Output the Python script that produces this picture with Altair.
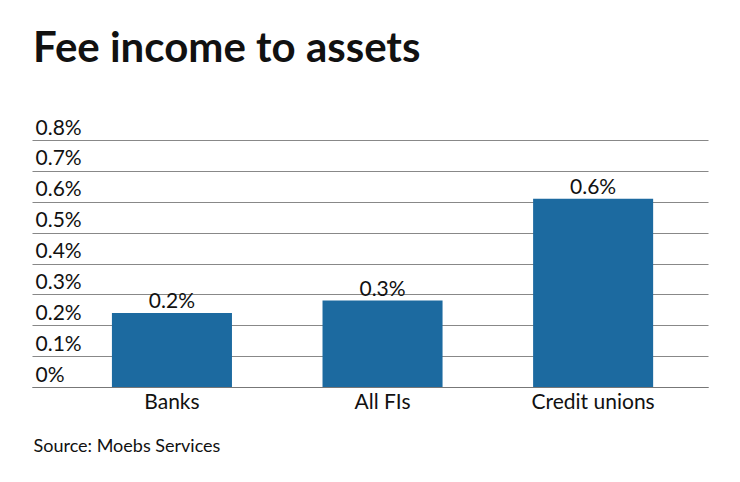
import altair as alt
import pandas as pd

categories = ["Banks", "All FIs", "Credit unions"]
values = [0.24, 0.28, 0.61]
labels = ["0.2%", "0.3%", "0.6%"]
y_ticks = [0, 0.1, 0.2, 0.3, 0.4, 0.5, 0.6, 0.7, 0.8]

df = pd.DataFrame({"category": categories, "value": values, "label": labels})

FONT = "Lato"

x = alt.X(
    "category:N",
    sort=categories,
    scale=alt.Scale(paddingInner=0.43, paddingOuter=0.32, align=0.593),
    axis=alt.Axis(
        title="Source: Moebs Services",
        titleAnchor="start",
        titleAlign="left",
        titleBaseline="alphabetic",
        titleX=1,
        titleY=64,
        titleFont=FONT,
        titleFontSize=18,
        titleFontWeight="normal",
        titleColor="#111",
        labelAngle=0,
        labelFont=FONT,
        labelFontSize=21,
        labelColor="#111",
        labelPadding=4,
        ticks=False,
        domainColor="#777",
    ),
)

y = alt.Y(
    "value:Q",
    scale=alt.Scale(domain=[0, 0.8], nice=False),
    axis=alt.Axis(
        title=None,
        values=y_ticks,
        labelExpr="datum.value == 0 ? '0%' : format(datum.value, '.1f') + '%'",
        labelAlign="left",
        labelBaseline="bottom",
        labelPadding=-3,
        labelOffset=-2,
        labelOverlap=False,
        labelFont=FONT,
        labelFontSize=21,
        labelColor="#111",
        ticks=False,
        domain=False,
        gridColor="#888",
        gridWidth=1.2,
    ),
)

base = alt.Chart(df).encode(x=x, y=y)

bars = base.mark_bar(color="#1c6aa0")

text = base.mark_text(
    baseline="bottom", dy=-1, font=FONT, fontSize=21, color="#111"
).encode(text="label:N")

chart = (
    alt.layer(bars, text)
    .properties(
        width=676,
        height=247,
        padding={"left": 24, "top": 20, "right": 10, "bottom": 10},
        title=alt.Title(
            "Fee income to assets",
            anchor="start",
            font=FONT,
            fontSize=42,
            fontWeight="bold",
            color="#111",
            baseline="alphabetic",
            offset=13,
            dx=1,
        ),
    )
    .configure_view(stroke=None)
)

chart.save("out.html", embed_options={"renderer": "svg", "actions": False})
